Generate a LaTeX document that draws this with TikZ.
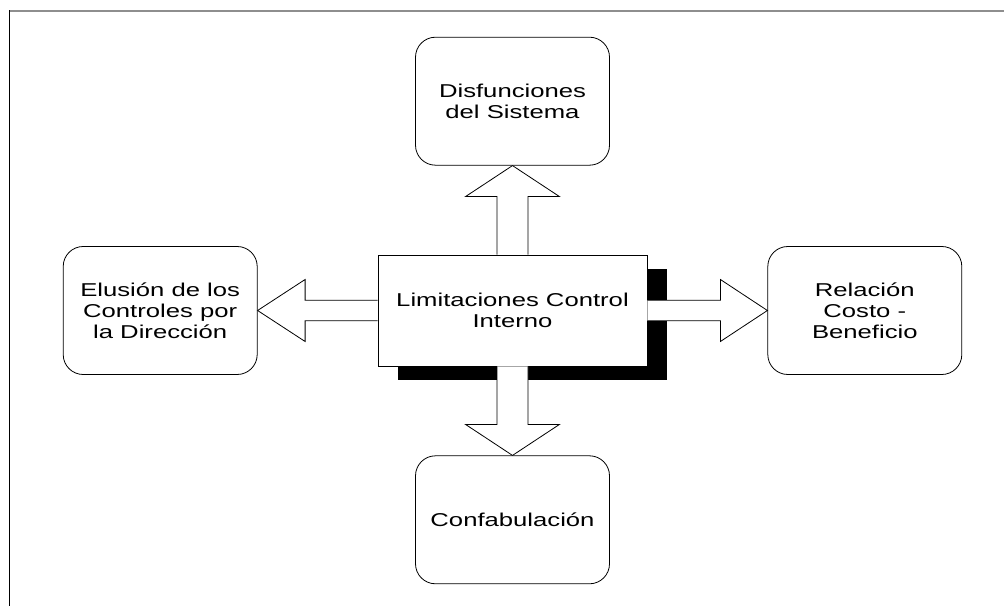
\documentclass[tikz,border=0pt]{standalone}
\usepackage{fontspec}
\setmainfont[FakeStretch=1.38]{Liberation Sans}
\usetikzlibrary{positioning,shadows}
\definecolor{rule}{HTML}{8E8E8E}

\begin{document}
\begin{tikzpicture}[x=1pt,y=1pt,line width=.8pt,
 box/.style={rounded corners=20pt,draw,fill=white,minimum width=194pt,minimum height=128pt,align=center,font=\fontsize{18.6}{21}\selectfont},
 core/.style={draw,fill=white,minimum width=269pt,minimum height=111pt,align=center,font=\fontsize{18.6}{21}\selectfont,drop shadow={shadow xshift=20pt,shadow yshift=-14pt,fill=black,opacity=1}},
 fat/.style={draw,fill=white,line join=miter}]
 \useasboundingbox (0,0) rectangle (1004,606);
 \draw[rule,line width=1.3pt] (9,595) -- (1004,595); \draw[line width=1.3pt] (9.5,595.6) -- (9.5,0);
 \node[core] (lim) at (512.5,295.5) {Limitaciones Control\\Interno};
 \node[box,above=89pt of lim] (dis) {Disfunciones\\del Sistema}; \node[box,below=89pt of lim] (con) {Confabulación};
 \node[box,left=120pt of lim] (elu) {Elusión de los\\Controles por\\la Dirección}; \node[box,right=120pt of lim] (rel) {Relación\\Costo -\\Beneficio};
 \filldraw[fat] ([xshift=-15.5pt]lim.north) -- ([xshift=-15.5pt,yshift=-31pt]dis.south) -- ([xshift=-47pt,yshift=-31pt]dis.south) -- (dis.south) -- ([xshift=47pt,yshift=-31pt]dis.south) -- ([xshift=15.5pt,yshift=-31pt]dis.south) -- ([xshift=15.5pt]lim.north);
 \filldraw[fat] ([xshift=-15.5pt]lim.south) -- ([xshift=-15.5pt,yshift=31pt]con.north) -- ([xshift=-47pt,yshift=31pt]con.north) -- (con.north) -- ([xshift=47pt,yshift=31pt]con.north) -- ([xshift=15.5pt,yshift=31pt]con.north) -- ([xshift=15.5pt]lim.south);
 \filldraw[fat] ([yshift=10.3pt]lim.west) -- ([xshift=47.5pt,yshift=10.3pt]elu.east) -- ([xshift=47.5pt,yshift=31pt]elu.east) -- (elu.east) -- ([xshift=47.5pt,yshift=-31pt]elu.east) -- ([xshift=47.5pt,yshift=-10.3pt]elu.east) -- ([yshift=-10.3pt]lim.west);
 \filldraw[fat] ([yshift=10.3pt]lim.east) -- ([xshift=-47pt,yshift=10.3pt]rel.west) -- ([xshift=-47pt,yshift=31pt]rel.west) -- (rel.west) -- ([xshift=-47pt,yshift=-31pt]rel.west) -- ([xshift=-47pt,yshift=-10.3pt]rel.west) -- ([yshift=-10.3pt]lim.east);
\end{tikzpicture}
\end{document}
